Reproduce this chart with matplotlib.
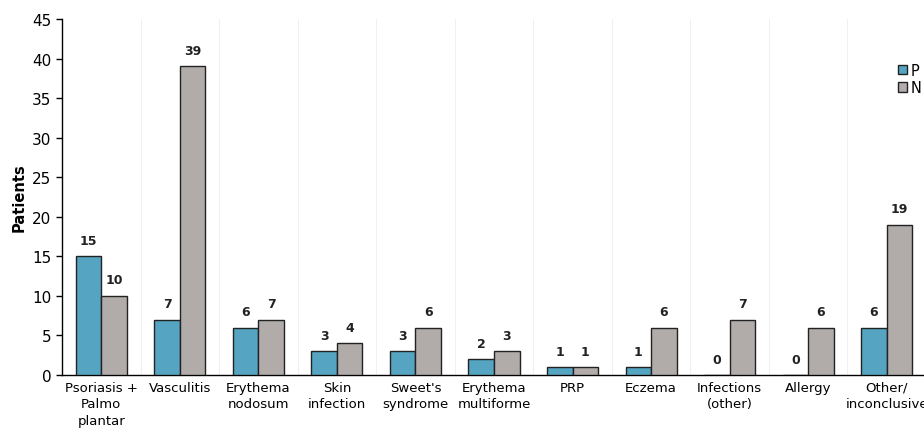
import matplotlib
matplotlib.use("Agg")
import matplotlib.pyplot as plt
import numpy as np

categories = ["Psoriasis +\nPalmo\nplantar", "Vasculitis", "Erythema\nnodosum", "Skin\ninfection",
              "Sweet's\nsyndrome", "Erythema\nmultiforme", "PRP", "Eczema", "Infections\n(other)",
              "Allergy", "Other/\ninconclusive"]
P = [15, 7, 6, 3, 3, 2, 1, 1, 0, 0, 6]
N = [10, 39, 7, 4, 6, 3, 1, 6, 7, 6, 19]
yticks = list(range(0, 50, 5))

plt.rcParams['font.family'] = ['DejaVu Sans']
fig = plt.figure(figsize=(9.24, 4.35), dpi=100)
ax = fig.add_axes([62/924, 1-376/435, 864/924, 356/435])

x = np.arange(len(categories))
w = 0.325
cP = "#55a5c2"
cN = "#b1acaa"
bP = ax.bar(x - w/2, P, w, color=cP, edgecolor="#222222", linewidth=1.0, label="P", zorder=3)
bN = ax.bar(x + w/2, N, w, color=cN, edgecolor="#222222", linewidth=1.0, label="N", zorder=3)
for xi, v in zip(x, P):
    ax.text(xi - w/2, v + 1.2, str(v), ha="center", va="bottom", fontsize=9, fontweight="bold", color="#222222")
for xi, v in zip(x, N):
    ax.text(xi + w/2, v + 1.2, str(v), ha="center", va="bottom", fontsize=9, fontweight="bold", color="#222222")

ax.set_xlim(-0.5, len(categories) - 0.5)
ax.set_ylim(0, 45)
ax.set_yticks(yticks)
ax.set_xticks(x)
ax.set_xticklabels(categories, fontsize=9.5, linespacing=1.35)
ax.tick_params(axis="x", length=0, pad=4)
ax.tick_params(axis="y", labelsize=11, length=4, direction="out", width=1)
for b in np.arange(0.5, len(categories) - 0.5, 1):
    ax.axvline(b, color="#f0f0f0", linewidth=0.8, zorder=0)
ax.spines["top"].set_visible(False)
ax.spines["right"].set_visible(False)
ax.spines["left"].set_linewidth(1.0)
ax.spines["bottom"].set_linewidth(1.0)
ax.set_ylabel("Patients", fontsize=10.5, fontweight="semibold", labelpad=4)

leg = ax.legend(loc="upper left", bbox_to_anchor=((892 - 62)/864, 0.893), frameon=False,
                fontsize=10.5, handlelength=0.6, handleheight=0.6, handletextpad=0.3, labelspacing=0.15,
                borderaxespad=0)

fig.savefig("out.png", dpi=100)
